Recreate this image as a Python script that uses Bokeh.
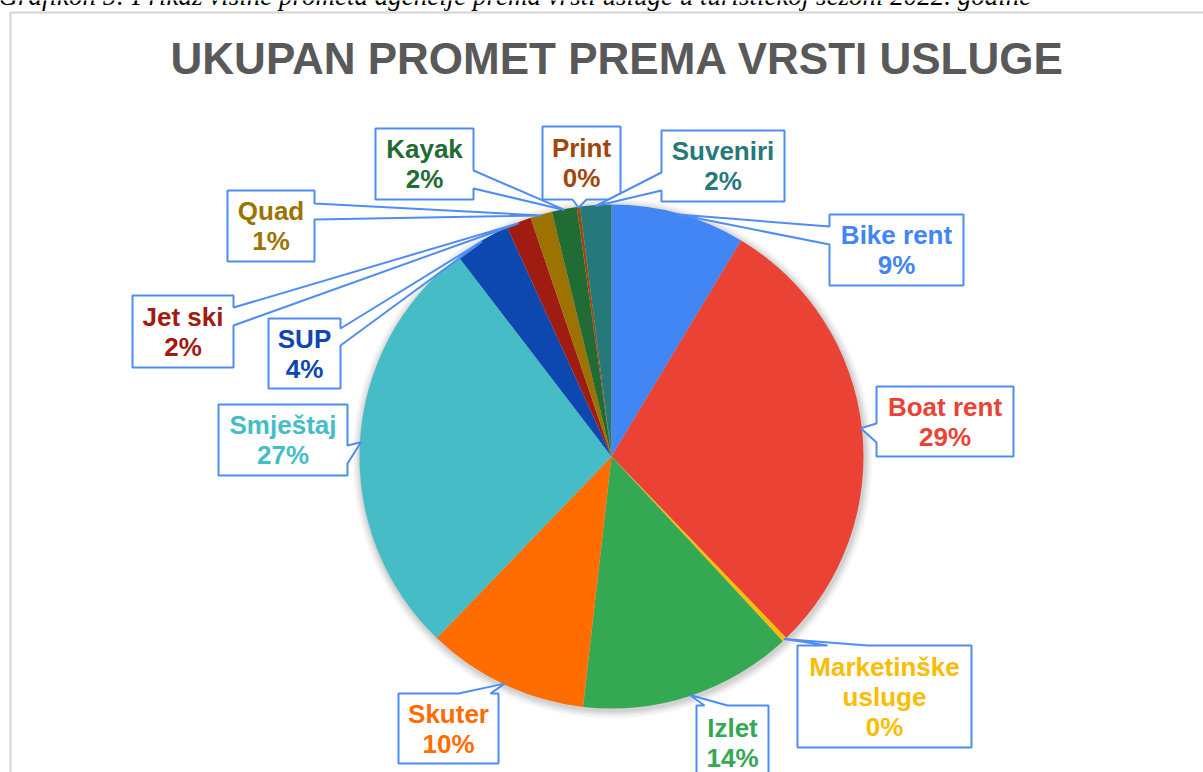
import math
from bokeh.plotting import figure
from bokeh.models import ColumnDataSource
from bokeh.embed import file_html
from bokeh.resources import INLINE
from bokeh.core.properties import value

W, H = 1203, 772

# ---------------- data ----------------
categories = ["Bike rent", "Boat rent", "Marketinške usluge", "Izlet", "Skuter",
              "Smještaj", "SUP", "Jet ski", "Quad", "Kayak", "Print", "Suveniri"]
shares = [8.6, 29.2, 0.3, 13.7, 10.4, 27.4, 3.6, 1.6, 1.4, 1.6, 0.2, 2.0]
colors = ["#4285F4", "#EA4335", "#FBBC04", "#34A853", "#FF6D01", "#46BDC6",
          "#0D47B0", "#A01C12", "#9C7300", "#216B35", "#A0480C", "#26797A"]
title_text = "UKUPAN PROMET PREMA VRSTI USLUGE"
caption_text = ("Grafikon 5: Prikaz visine prometa agencije prema vrsti usluge "
                "u turističkoj sezoni 2022. godine")

# ---------------- layout (pixels, y downward) ----------------
CX, CY, R = 611, 456, 252
label_wrap = {"Marketinške usluge": ["Marketinške", "usluge"]}
# box (x0, y0, x1, y1), side where the pointer attaches, pointer base range
callouts = {
    "Bike rent": ((829, 214, 963, 285), "left", (226, 244)),
    "Boat rent": ((876, 386, 1013, 456), "left", (423, 442)),
    "Marketinške usluge": ((797, 645, 971, 747), "top", (827, 867)),
    "Izlet": ((696, 705, 768, 780), "top", (704, 727)),
    "Skuter": ((398, 693, 498, 763), "top", (458, 490)),
    "Smještaj": ((218, 404, 347, 475), "right", (445, 463)),
    "SUP": ((268, 318, 340, 388), "right", (328, 345)),
    "Jet ski": ((132, 295, 233, 367), "right", (307, 325)),
    "Quad": ((227, 190, 314, 261), "right", (203, 219)),
    "Kayak": ((375, 128, 473, 199), "right", (170, 188)),
    "Print": ((542, 126, 620, 199), "bottom", (572, 586)),
    "Suveniri": ((661, 130, 784, 201), "left", (172, 190)),
}


def Y(py):
    return H - py


p = figure(width=W, height=H, x_range=(0, W), y_range=(0, H),
           output_backend="svg", toolbar_location=None, min_border=0,
           x_axis_location=None, y_axis_location=None)
p.grid.visible = False
p.outline_line_color = None
p.background_fill_color = "white"
p.border_fill_color = "white"

# chart area border
p.quad(left=[10], right=[W + 10], top=[Y(12)], bottom=[-10],
       fill_color=None, line_color="#D4D4D4", line_width=2)

# caption (cut at the top)
p.text(x=[-2], y=[Y(-5)], text=[caption_text], text_font=value("Liberation Serif"),
       text_font_style="italic", text_font_size="27px", text_color="#000000",
       text_align="left", text_baseline="middle")

# title
p.text(x=[617], y=[Y(58)], text=[title_text], text_font=value("Liberation Sans"),
       text_font_style="bold", text_font_size="44px", text_color="#595959",
       text_align="center", text_baseline="middle")

# soft shadow
for k, a in [(8, 0.03), (6, 0.04), (4, 0.05), (2, 0.06)]:
    p.circle(x=[CX + 1], y=[Y(CY + 2)], radius=R + k, fill_color="#000000",
             fill_alpha=a, line_color=None)

# pie
total = sum(shares)
starts, ends, mids = [], [], []
cum = 0.0
for s in shares:
    a0 = math.pi / 2 - 2 * math.pi * cum / total
    a1 = math.pi / 2 - 2 * math.pi * (cum + s) / total
    starts.append(a1)
    ends.append(a0)
    mids.append((a0 + a1) / 2)
    cum += s
src = ColumnDataSource(dict(cat=categories, start=starts, end=ends, color=colors))
p.wedge(x=CX, y=Y(CY), radius=R, start_angle="start", end_angle="end",
        direction="anticlock", fill_color="color", line_color=None, source=src)

# callouts
pxs, pys = [], []
tx, ty, tt, tc = [], [], [], []
for cat, share, col, mid in zip(categories, shares, colors, mids):
    (x0, y0, x1, y1), side, (a, b) = callouts[cat]
    tipx = CX + (R - 1) * math.cos(mid)
    tipy = CY - (R - 1) * math.sin(mid)
    pts = [(x0, y0)]
    if side == "top":
        pts += [(a, y0), (tipx, tipy), (b, y0)]
    pts += [(x1, y0)]
    if side == "right":
        pts += [(x1, a), (tipx, tipy), (x1, b)]
    pts += [(x1, y1)]
    if side == "bottom":
        pts += [(b, y1), (tipx, tipy), (a, y1)]
    pts += [(x0, y1)]
    if side == "left":
        pts += [(x0, b), (tipx, tipy), (x0, a)]
    pxs.append([q[0] for q in pts])
    pys.append([Y(q[1]) for q in pts])

    pct = round(share / total * 100)
    lines = label_wrap.get(cat, [cat]) + [f"{pct}%"]
    n = len(lines)
    bcx = (x0 + x1) / 2
    bcy = (y0 + y1) / 2
    for i, ln in enumerate(lines):
        tx.append(bcx)
        ty.append(Y(bcy + (i - (n - 1) / 2) * 30))
        tt.append(ln)
        tc.append(col)

p.patches(xs=pxs, ys=pys, fill_color="white", line_color="#4F8DF5", line_width=2)
p.text(x=tx, y=ty, text=tt, text_color=tc, text_font=value("Liberation Sans"),
       text_font_style="bold", text_font_size="26px", text_align="center",
       text_baseline="middle")

open("out.html", "w").write(file_html(p, INLINE))
